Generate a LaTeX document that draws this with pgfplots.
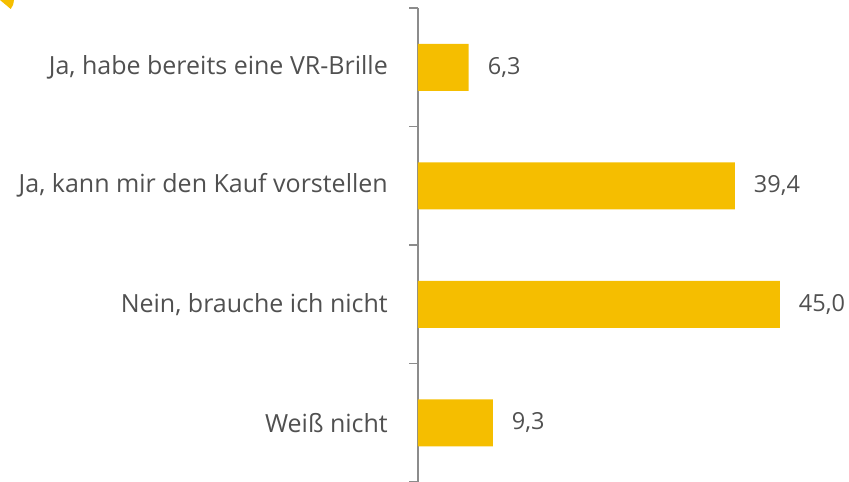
\documentclass[border=0pt]{standalone}
\usepackage{pgfplots}
\pgfplotsset{compat=1.18}
\usepackage{fontspec}
\setmainfont{Open Sans}
\definecolor{baryellow}{HTML}{F5BE00}
\definecolor{txtgray}{HTML}{505050}
\definecolor{axgray}{HTML}{8C8C8C}
\begin{document}
\begin{tikzpicture}[x=1pt,y=1pt]
\begin{axis}[
  at={(418pt,0pt)}, anchor=south west,
  scale only axis, width=402pt, height=474pt,
  xbar, bar width=47pt,
  xmin=0, xmax=50,
  ymin=-0.5, ymax=3.5, y dir=reverse,
  axis x line=none,
  axis y line*=left,
  y axis line style={draw=axgray, line width=1.3pt, -},
  ytick={0,1,2,3},
  yticklabels={Ja\char44{} habe bereits eine VR-Brille, Ja\char44{} kann mir den Kauf vorstellen, Nein\char44{} brauche ich nicht, Weiß nicht},
  major tick length=0pt,
  minor ytick={-0.5,0.5,1.5,2.5,3.5},
  minor tick length=9pt,
  tick align=outside,
  minor tick style={draw=axgray, line width=1.3pt},
  yticklabel style={font=\fontsize{25}{30}\selectfont, text=txtgray, anchor=east, inner sep=0pt, xshift=-30pt},
  clip=false,
  nodes near coords,
  nodes near coords style={font=\fontsize{23.5}{28}\selectfont, text=txtgray, anchor=west, inner sep=0pt, xshift=19pt,
    /pgf/number format/.cd, fixed, fixed zerofill, precision=1, use comma, assume math mode=true},
]
\addplot[fill=baryellow, draw=none] coordinates {(6.3,0) (39.4,1) (45.0,2) (9.3,3)};
\end{axis}
\fill[baryellow] (0,482) -- (14,482) arc[start angle=0, end angle=-40, radius=14] -- cycle;
\pgfresetboundingbox
\useasboundingbox (0,0) rectangle (849,482);
\end{tikzpicture}
\end{document}
